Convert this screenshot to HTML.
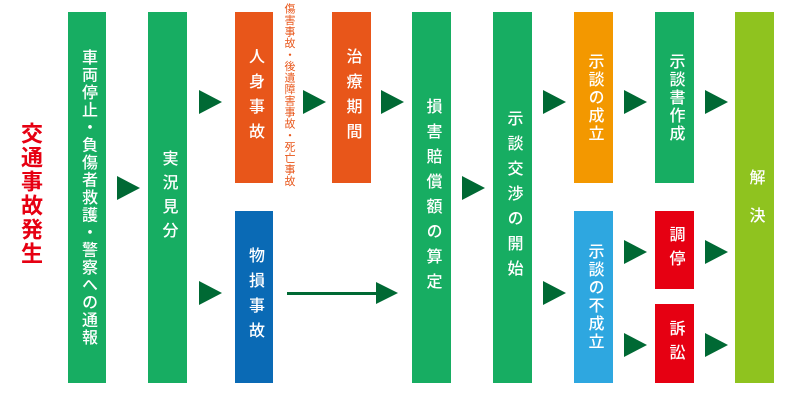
<!DOCTYPE html>
<html><head><meta charset="utf-8"><style>
body{margin:0;width:800px;height:400px;background:#fff;position:relative;overflow:hidden;font-family:"Liberation Sans","Noto Sans CJK JP",sans-serif}
.b{position:absolute;display:flex;align-items:center;justify-content:center;color:#fff;font-size:16px;font-weight:500}
.b span{writing-mode:vertical-rl;line-height:1}
.g{background:#17ad62}.o{background:#e8561a}.bl{background:#0a6ab5}.y{background:#f39800}.lb{background:#2ea7e0}.r{background:#e60012}.yg{background:#8fc31f}
.t{position:absolute;width:0;height:0;border-top:12px solid transparent;border-bottom:12px solid transparent;border-left:23px solid #006934}
</style></head><body>
<div style="position:absolute;left:19px;top:122px;color:#e60012;font-size:22px;font-weight:bold;writing-mode:vertical-rl;line-height:1;letter-spacing:2px">交通事故発生</div>
<div class="b g" style="left:68px;top:12px;width:38px;height:371px"><span style="letter-spacing:1.5px">車両停止・負傷者救護・警察への通報</span></div>
<div class="b g" style="left:148px;top:12px;width:39px;height:371px"><span style="letter-spacing:8px">実況見分</span></div>
<div class="b o" style="left:235px;top:12px;width:38px;height:171px"><span style="letter-spacing:9px">人身事故</span></div>
<div style="position:absolute;left:283px;top:3px;color:#e8561a;font-size:11px;writing-mode:vertical-rl;line-height:1;letter-spacing:0.5px">傷害事故・後遺障害事故・死亡事故</div>
<div class="b bl" style="left:235px;top:211px;width:38px;height:172px"><span style="letter-spacing:9px">物損事故</span></div>
<div class="b o" style="left:332px;top:12px;width:39px;height:171px"><span style="letter-spacing:9px">治療期間</span></div>
<div class="b g" style="left:412px;top:12px;width:39px;height:371px"><span style="letter-spacing:9px">損害賠償額の算定</span></div>
<div class="b g" style="left:493px;top:12px;width:39px;height:371px"><span style="letter-spacing:9px">示談交渉の開始</span></div>
<div class="b y" style="left:574px;top:12px;width:39px;height:171px"><span style="letter-spacing:2px">示談の成立</span></div>
<div class="b lb" style="left:574px;top:211px;width:39px;height:172px"><span style="letter-spacing:2px">示談の不成立</span></div>
<div class="b g" style="left:655px;top:12px;width:39px;height:171px"><span style="letter-spacing:2px">示談書作成</span></div>
<div class="b r" style="left:655px;top:211px;width:39px;height:78px"><span style="letter-spacing:8px">調停</span></div>
<div class="b r" style="left:655px;top:304px;width:39px;height:79px"><span style="letter-spacing:8px">訴訟</span></div>
<div class="b yg" style="left:735px;top:12px;width:39px;height:371px"><span style="letter-spacing:22px;margin-top:18px">解決</span></div>
<div class="t" style="left:117px;top:176px"></div>
<div class="t" style="left:199px;top:90px"></div>
<div class="t" style="left:199px;top:281px"></div>
<div class="t" style="left:303px;top:90px"></div>
<div class="t" style="left:381px;top:90px"></div>
<div class="t" style="left:462px;top:176px"></div>
<div class="t" style="left:543px;top:90px"></div>
<div class="t" style="left:543px;top:281px"></div>
<div class="t" style="left:624px;top:90px"></div>
<div class="t" style="left:624px;top:240px"></div>
<div class="t" style="left:624px;top:333px"></div>
<div class="t" style="left:705px;top:90px"></div>
<div class="t" style="left:705px;top:240px"></div>
<div class="t" style="left:705px;top:333px"></div>
<div style="position:absolute;left:287px;top:292px;width:92px;height:3px;background:#006934"></div>
<div style="position:absolute;left:376px;top:282px;width:0;height:0;border-top:11px solid transparent;border-bottom:11px solid transparent;border-left:22px solid #006934"></div>
</body></html>
